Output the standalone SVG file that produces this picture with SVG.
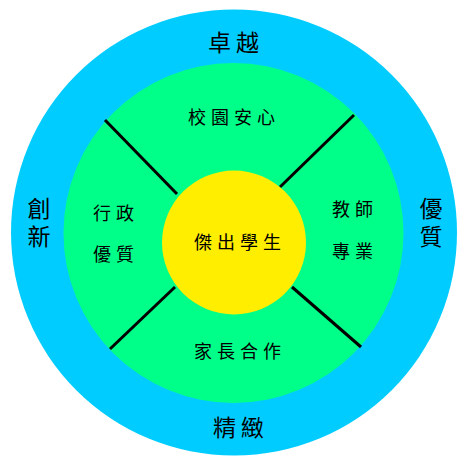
<svg xmlns="http://www.w3.org/2000/svg" width="466" height="464" viewBox="0 0 466 464">
<style>
text{font-family:"Noto Sans CJK TC","Noto Sans CJK SC",sans-serif;fill:#000;text-anchor:middle}
.big{font-size:23px;letter-spacing:5px}
.vert{font-size:23px;letter-spacing:5px;writing-mode:vertical-rl}
.mid{font-size:18px;letter-spacing:5px}
.conn{stroke:#000;stroke-width:3;stroke-linecap:butt}
</style>
<rect width="466" height="464" fill="#fff"/>
<g id="outer">
<circle cx="234" cy="232.5" r="223" fill="#00CCFF"/>
<text class="big" x="236" y="51">卓越</text>
<text class="big" x="241" y="436">精緻</text>
<text class="vert" x="39" y="225">創新</text>
<text class="vert" x="431" y="225">優質</text>
</g>
<g id="middle">
<circle cx="233.5" cy="233" r="170" fill="#00FF88"/>
</g>
<g id="connectors">
<line class="conn" x1="105" y1="120" x2="177" y2="194"/>
<line class="conn" x1="354" y1="115" x2="280" y2="187"/>
<line class="conn" x1="175" y1="287" x2="110" y2="349"/>
<line class="conn" x1="292" y1="287" x2="361" y2="347"/>
</g>
<g id="campus"><text class="mid" x="234" y="124">校園安心</text></g>
<g id="admin"><text class="mid" x="116" y="220">行政</text><text class="mid" x="116" y="261">優質</text></g>
<g id="teacher"><text class="mid" x="355" y="216">教師</text><text class="mid" x="355" y="258">專業</text></g>
<g id="parent"><text class="mid" x="240" y="358">家長合作</text></g>
<g id="center">
<circle cx="234" cy="242.5" r="72" fill="#FFEE00"/>
<text class="mid" x="240" y="249">傑出學生</text>
</g>
</svg>
